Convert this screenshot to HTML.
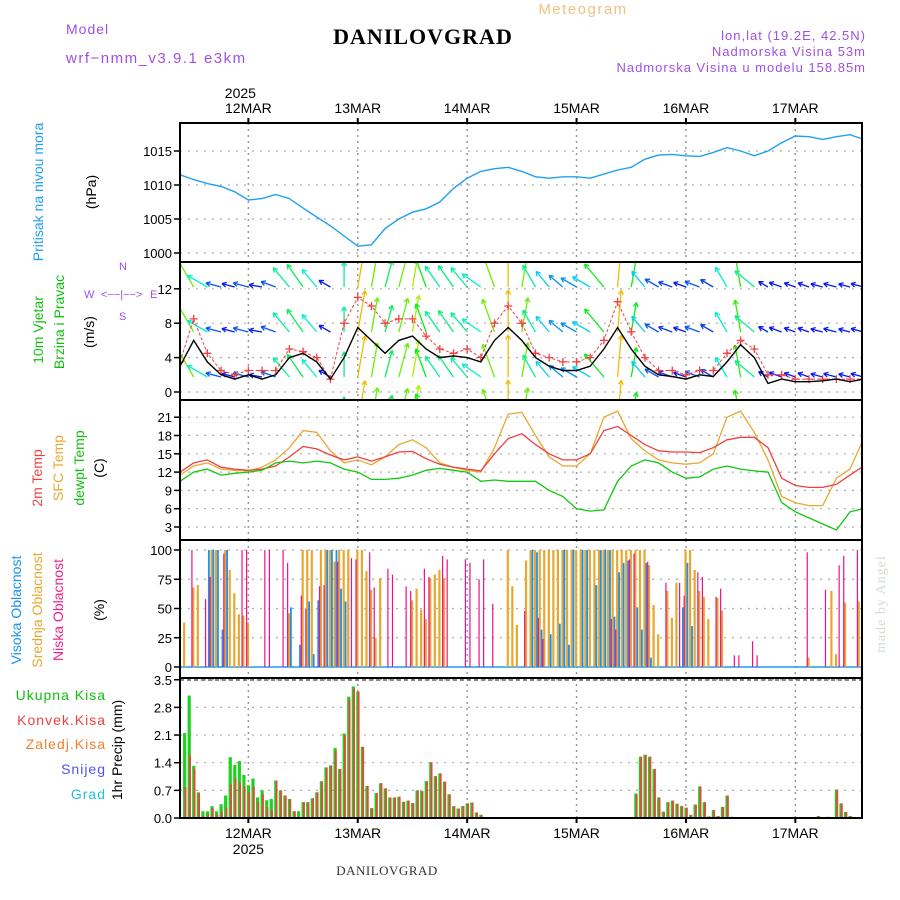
<!DOCTYPE html>
<html><head><meta charset="utf-8"><style>
html,body{margin:0;padding:0;background:#fff;width:900px;height:900px;overflow:hidden}
svg{display:block}
text{font-family:"Liberation Sans",sans-serif}
</style></head><body>
<svg id="chart" width="900" height="900" viewBox="0 0 900 900" xmlns="http://www.w3.org/2000/svg">
<g>
<text x="66" y="34" font-size="14" fill="#a050e0" letter-spacing="1">Model</text>
<text x="66" y="63" font-size="15" fill="#a050e0" letter-spacing="1.5">wrf−nmm_v3.9.1 e3km</text>
<text x="423" y="44" font-size="22" font-weight="bold" text-anchor="middle" letter-spacing="1" style="font-family:'Liberation Serif',serif">DANILOVGRAD</text>
<text x="583" y="14" font-size="15" fill="#f0c080" text-anchor="middle" letter-spacing="1.5">Meteogram</text>
<text x="866" y="40" font-size="13" fill="#a050e0" text-anchor="end" letter-spacing="1">lon,lat (19.2E, 42.5N)</text>
<text x="866" y="56" font-size="13" fill="#a050e0" text-anchor="end" letter-spacing="1">Nadmorska Visina 53m</text>
<text x="866" y="72" font-size="13" fill="#a050e0" text-anchor="end" letter-spacing="1">Nadmorska Visina u modelu 158.85m</text>
<text x="387" y="875" font-size="13" fill="#333" text-anchor="middle" letter-spacing="0.5" style="font-family:'Liberation Serif',serif">DANILOVGRAD</text>
<text transform="translate(885,653) rotate(-90)" font-size="14" fill="#cfe0cf" style="font-family:'Liberation Serif',serif" letter-spacing="1">made by Angel</text>
</g>
<g>
<text transform="translate(43,192) rotate(-90)" font-size="14" fill="#20a0f0" text-anchor="middle">Pritisak na nivou mora</text>
<text transform="translate(96,192) rotate(-90)" font-size="14" text-anchor="middle">(hPa)</text>
<text transform="translate(43,330) rotate(-90)" font-size="14" fill="#10c010" text-anchor="middle">10m Vjetar</text>
<text transform="translate(64,322) rotate(-90)" font-size="14" fill="#10c010" text-anchor="middle">Brzina i Pravac</text>
<text transform="translate(94,332) rotate(-90)" font-size="14" text-anchor="middle">(m/s)</text>
<text x="84" y="298" font-size="11" fill="#a050e0">W</text>
<text x="101" y="298" font-size="11" fill="#a050e0">&lt;−−|−−&gt;</text>
<text x="150" y="298" font-size="11" fill="#a050e0">E</text>
<text x="119" y="270" font-size="11" fill="#a050e0">N</text>
<text x="119" y="320" font-size="11" fill="#a050e0">S</text>
<text transform="translate(42,478) rotate(-90)" font-size="14" fill="#f04040" text-anchor="middle">2m Temp</text>
<text transform="translate(63,468) rotate(-90)" font-size="14" fill="#e8a830" text-anchor="middle">SFC Temp</text>
<text transform="translate(84,468) rotate(-90)" font-size="14" fill="#10c010" text-anchor="middle">dewpt Temp</text>
<text transform="translate(104,468) rotate(-90)" font-size="14" text-anchor="middle">(C)</text>
<text transform="translate(21,610) rotate(-90)" font-size="14" fill="#1a90f0" text-anchor="middle">Visoka Oblacnost</text>
<text transform="translate(42,610) rotate(-90)" font-size="14" fill="#e8a830" text-anchor="middle">Srednja Oblacnost</text>
<text transform="translate(63,610) rotate(-90)" font-size="14" fill="#f0208a" text-anchor="middle">Niska Oblacnost</text>
<text transform="translate(104,610) rotate(-90)" font-size="14" text-anchor="middle">(%)</text>
<text x="106" y="700" font-size="14" fill="#10c010" text-anchor="end" letter-spacing="1">Ukupna Kisa</text>
<text x="106" y="725" font-size="14" fill="#f04040" text-anchor="end" letter-spacing="1">Konvek.Kisa</text>
<text x="106" y="749" font-size="14" fill="#f08030" text-anchor="end" letter-spacing="1">Zaledj.Kisa</text>
<text x="106" y="774" font-size="14" fill="#5050f0" text-anchor="end" letter-spacing="1">Snijeg</text>
<text x="106" y="799" font-size="14" fill="#20c0d0" text-anchor="end" letter-spacing="1">Grad</text>
<text transform="translate(122,750) rotate(-90)" font-size="14" text-anchor="middle">1hr Precip (mm)</text>
</g>
</svg>
<script>
// ---------- data (3-hourly series starting 11 MAR 09h) ----------
const dateLabels = ["12MAR","13MAR","14MAR","15MAR","16MAR","17MAR"];
const pressure = [1011.5,1010.8,1010.2,1009.8,1009,1007.8,1008,1008.6,1008,1006.6,1005.3,1004,1002.5,1001,1001.2,1003.6,1005,1006,1006.5,1007.5,1009.5,1011,1012,1012.4,1012.6,1012,1011.2,1011,1011.2,1011.2,1011,1011.6,1012.2,1012.6,1013.8,1014.4,1014.5,1014.3,1014.2,1014.8,1015.5,1015,1014.3,1015,1016.2,1017.2,1017.1,1016.7,1017.1,1017.4,1016.7];
const temp2m = [12,13.5,14,12.8,12.5,12.3,12.5,13,14.5,16.2,15.8,14.8,14,14.5,13.8,14.5,15.3,15.4,14.2,13.3,12.8,12.5,12.2,15,17.5,18.3,16.5,15,14,14,15,18.8,19.5,18,16.5,15.5,15.3,15.3,15.2,16,17.3,17.7,17.7,16,11,9.8,9.5,9.5,10,11.5,13];
const tempSfc = [11.5,13,13.5,12.5,12.3,12.2,12.8,14,16,18.8,18.5,15.5,13.5,14,13.2,14.5,16.5,17.3,16,13.5,12.8,12.3,12,16,21.5,21.8,18,14.5,13,13,15,21,22,17.5,15.5,14,13.5,13.3,13.5,15,21,22,18.5,14,8,7,6.5,6.5,11,12.5,17.5];
const dewpt = [10.5,12,12.5,11.5,11.8,12,12.3,13.5,13.8,13.5,13.8,13.5,12.5,12,10.8,10.8,11,11.5,12.3,12.6,12.3,12,10.5,10.7,10.5,10.5,10.5,9,8,6,5.6,5.8,10.5,13,14,13.5,12,11,11.2,12.5,13,12.5,12.2,12,7,5.5,4.5,3.5,2.5,5.5,6];
const windSpeed = [3,6,3.5,2,1.5,2,1.5,2,4,4.5,3.5,1.5,4,7.5,6,4.5,6,6.5,5,4,4.2,4,3.5,6,7.5,6,4,3,2.5,2.5,3,5,7.5,5,3,2,1.8,1.5,2,1.8,3.5,5.5,4,1,1.5,1.2,1.2,1.3,1.5,1.2,1.5];
const windGust = [3.5,8.5,4.5,2.5,2,2.5,2.5,2.5,5,4.7,4,1.5,8,11,10,8,8.5,8.5,6.5,5,4.5,5,4,8,10,8,4.5,4,3.5,3.5,4,6,10.5,7,4,2.5,2.5,2,2.5,2.5,4.5,6,5,2,2,1.5,1.5,1.5,1.5,1.5,1.5];
const windDir = [-20,-30,-60,-75,-75,-75,-80,-70,-40,-35,-40,-60,0,10,10,15,15,10,-20,-35,-35,-40,-55,-20,0,10,-30,-40,-50,-60,-60,-40,5,10,-40,-60,-70,-70,-70,-60,-30,-10,-50,-60,-70,-70,-70,-75,-75,-75,-75];
// hourly cloud bars (hour index, percent)
const cloudMidHours = [1,3,4,7,8,10,11,12,13,14,15,24,27,28,29,31,32,33,34,35,36,37,39,40,41,42,43,44,51,52,53,54,55,56,57,58,72,73,74,76,77,78,79,80,81,82,83,84,85,86,87,88,89,90,91,92,93,94,95,96,97,98,99,100,101,102,103,104,105,107,108,109,111,112,113,114,115,116,118,119,138,143,144,146,149];
const cloudMidVals = [38,68,70,100,100,100,83,63,45,44,38,46,100,100,100,100,100,100,90,100,100,100,100,100,82,66,25,76,57,67,49,41,76,79,83,76,100,69,36,91,100,100,100,100,100,100,100,100,100,100,100,100,100,100,100,100,100,100,100,100,100,100,100,100,100,100,87,53,28,65,42,72,100,100,83,65,60,41,59,48,8,65,11,55,56];
const cloudHighHours = [6,7,8,9,10,24,26,28,29,30,32,33,34,35,36,77,78,79,81,83,84,85,86,88,89,91,92,93,94,95,96,97,98,100,101,102,103,110,111,112];
const cloudHighVals = [100,100,100,32,100,51,19,56,11,57,100,100,100,67,56,100,98,32,28,37,100,19,100,100,100,70,100,100,100,43,81,89,91,51,32,89,8,51,89,35];
const cloudLowHours = [2,5,6,9,13,14,18,19,22,23,26,27,30,31,34,37,38,41,42,45,46,49,50,53,54,57,58,62,63,65,66,68,75,78,79,94,95,98,99,102,106,109,110,113,114,117,118,121,122,125,126,137,141,144,145,148];
const cloudLowVals = [100,58,77,97,100,100,100,100,100,89,61,50,69,70,90,93,92,98,68,84,79,69,65,84,77,95,92,92,89,75,92,54,48,42,24,41,32,92,97,90,72,72,61,81,77,60,67,10,10,22,10,98,66,87,95,100];
// hourly precipitation (hour index, mm)
const precipHours = [1,2,3,4,5,6,7,8,9,10,11,12,13,14,15,16,17,18,19,20,21,22,23,24,25,26,27,28,29,30,31,32,33,34,35,36,37,38,39,40,41,42,43,44,45,46,47,48,49,50,51,52,53,54,55,56,57,58,59,60,61,62,63,64,65,66,100,101,102,103,104,105,106,107,108,109,110,111,112,113,114,115,116,117,118,119,120,121,140,142,144,145,146,147];
const precipTotal = [2.15,3.1,1.32,0.65,0.17,0.17,0.3,0.17,0.35,0.57,1.54,1.34,1.44,1.09,0.83,1.0,0.52,0.7,0.45,0.48,0.95,0.7,0.57,0.48,0.17,0.17,0.4,0.4,0.5,0.65,0.93,1.28,1.33,1.77,1.24,2.14,3.07,3.33,3.2,1.8,0.81,0.25,0.63,0.88,0.75,0.52,0.52,0.54,0.41,0.44,0.38,0.7,0.68,0.93,1.41,1.06,1.13,0.92,0.6,0.3,0.24,0.3,0.37,0.39,0.14,0.08,0.62,1.55,1.6,1.55,1.24,0.52,0.16,0.4,0.44,0.36,0.3,0.26,0.08,0.34,0.8,0.4,0.04,0.2,0.05,0.28,0.57,0.03,0.05,0.03,0.72,0.37,0.15,0.05];
const precipConv = [0.78,1.6,1.24,0.62,0.05,0.1,0.25,0.08,0.15,0.27,0.85,1.0,0.9,0.8,0.65,0.8,0.4,0.6,0.27,0.2,0.95,0.7,0.57,0.48,0.17,0,0.4,0.4,0.5,0.65,0.93,1.28,1.33,1.7,1.24,2.1,3.0,3.28,3.2,1.8,0.81,0.25,0.63,0.88,0.75,0.52,0.52,0.54,0.41,0.44,0.38,0.7,0.68,0.93,1.41,1.06,1.13,0.92,0.6,0.3,0.24,0.3,0.37,0.39,0.14,0.08,0.6,1.55,1.6,1.55,1.24,0.52,0.16,0.4,0.44,0.36,0.3,0.26,0.08,0.34,0.8,0.4,0.04,0.2,0.05,0.28,0.57,0.03,0.05,0.03,0.72,0.37,0.15,0.05];
const pressTicks = [1000,1005,1010,1015];
const windTicks = [0,4,8,12];
const tempTicks = [3,6,9,12,15,18,21];
const cloudTicks = [0,25,50,75,100];
const precipTicks = [0,0.7,1.4,2.1,2.8,3.5];

// ---------- geometry ----------
const NS = "http://www.w3.org/2000/svg";
const svg = document.getElementById("chart");
const X0 = 180, X1 = 862, PXH = 4.558;
const xH = h => X0 + h * PXH;
const x3 = i => xH(i * 3);
const panels = {
  press: {top:123, bot:262, y: v => 253 - (v - 1000) * 6.8},
  wind:  {top:262, bot:400, y: v => 392 - v * 8.6},
  temp:  {top:400, bot:540, y: v => 527 - (v - 3) * 6.1},
  cloud: {top:540, bot:678, y: v => 667 - v * 1.17},
  precip:{top:678, bot:818, y: v => 818 - v * 39.5}
};
function el(tag, attrs, parent){
  const e = document.createElementNS(NS, tag);
  for (const k in attrs) e.setAttribute(k, attrs[k]);
  (parent || svg).appendChild(e);
  return e;
}
const defs = el("defs", {});
for (const k in panels){
  const p = panels[k];
  const cp = el("clipPath", {id:"clip-"+k}, defs);
  el("rect", {x:X0, y:p.top, width:X1-X0, height:p.bot-p.top}, cp);
}
const dayHours = [15,39,63,87,111,135];

function gridPanel(key, ticks, fmt){
  const p = panels[key];
  const g = el("g", {});
  
  
  ticks.forEach(t => {
    const y = p.y(t);
    el("line", {x1:X0, x2:X1, y1:y, y2:y, stroke:"#aaa", "stroke-width":1.2, "stroke-dasharray":"2,6"}, g);
    el("line", {x1:X0-6, x2:X0, y1:y, y2:y, stroke:"#000", "stroke-width":1.5}, g);
    const tx = el("text", {x:X0-8, y:y+5, "font-size":13, "text-anchor":"end"}, g);
    tx.textContent = fmt(t);
    
    
  });
  dayHours.forEach(h => {
    el("line", {x1:xH(h), x2:xH(h), y1:p.top, y2:p.bot, stroke:"#999", "stroke-width":1.5, "stroke-dasharray":"2,4"}, g);
  });
}
gridPanel("press", pressTicks, t => t);
gridPanel("wind", windTicks, t => t);
gridPanel("temp", tempTicks, t => t);
gridPanel("cloud", cloudTicks, t => t);
gridPanel("precip", precipTicks, t => t.toFixed(1));

function linePath(arr, yf, color, name, w, dash){
  const d = arr.map((v,i) => (i?"L":"M") + x3(i).toFixed(1) + "," + yf(v).toFixed(1)).join(" ");
  const path = el("path", {d:d, fill:"none", stroke:color, "stroke-width":w||1.3});
  if (dash) path.setAttribute("stroke-dasharray", dash);
  
  
  return path;
}

// pressure
const gp = el("g", {"clip-path":"url(#clip-press)"});
gp.appendChild(linePath(pressure, panels.press.y, "#1ea0f0", "pressure-line", 1.4));

// wind
const gw = el("g", {"clip-path":"url(#clip-wind)"});
function windColor(s){
  if (s >= 9) return "hsl(325,95%,50%)";
  const h = Math.max(0, 235 - Math.max(0, s - 1.5) / 7.5 * 235);
  return "hsl(" + h.toFixed(0) + ",95%,48%)";
}
const rowBases = [287, 332, 377, 422];
rowBases.forEach((by) => {
  windSpeed.forEach((s, i) => {
    const a = windDir[i] * Math.PI / 180;
    const L = 6 + s * 4.8;
    const x = x3(i), x2 = x + Math.sin(a) * L, y2 = by - Math.cos(a) * L;
    const c = windColor(s);
    const g = el("g", {stroke:c, "stroke-width":1.3, fill:"none"}, gw);
    
    
    el("line", {x1:x, y1:by, x2:x2, y2:y2}, g);
    const ang = Math.atan2(y2 - by, x2 - x);
    [0.5, -0.5].forEach(da => {
      el("line", {x1:x2, y1:y2, x2:x2 - 5*Math.cos(ang+da), y2:y2 - 5*Math.sin(ang+da)}, g);
    });
  });
});
gw.appendChild(linePath(windGust, panels.wind.y, "#f04040", "wind-gust-line", 1, "3,2"));
windGust.forEach((v,i) => {
  const x = x3(i), y = panels.wind.y(v);
  const m = el("path", {d:`M${x-4},${y}H${x+4}M${x},${y-4}V${y+4}`, stroke:"#f04040", "stroke-width":1.3}, gw);
  
  
});
gw.appendChild(linePath(windSpeed, panels.wind.y, "#000", "wind-speed-line", 1.4));

// temperature
const gt = el("g", {"clip-path":"url(#clip-temp)"});
gt.appendChild(linePath(tempSfc, panels.temp.y, "#e8a830", "sfc-temp-line", 1.3));
gt.appendChild(linePath(temp2m, panels.temp.y, "#f04040", "temp-2m-line", 1.3));
gt.appendChild(linePath(dewpt, panels.temp.y, "#10c810", "dewpoint-line", 1.3));

// clouds
const gc = el("g", {"clip-path":"url(#clip-cloud)"});
el("line", {x1:X0, x2:X1, y1:667, y2:667, stroke:"#1ea0f0", "stroke-width":1.5}, gc);
function cloudBars(hours, vals, color, w, off, name){
  hours.forEach((h,i) => {
    const y = panels.cloud.y(vals[i]);
    const r = el("rect", {x:xH(h)+off, y:y, width:w, height:667-y, fill:color}, gc);
    
    
  });
}
cloudBars(cloudMidHours, cloudMidVals, "#e8a830", 2.2, -1.5, "cloud-mid-bar");
cloudBars(cloudHighHours, cloudHighVals, "#1a90f0", 1.8, 0.6, "cloud-high-bar");
cloudBars(cloudLowHours, cloudLowVals, "#f0108a", 1.2, 2.2, "cloud-low-bar");

// precipitation
const gq = el("g", {"clip-path":"url(#clip-precip)"});
el("line", {x1:X0, x2:X1, y1:680, y2:680, stroke:"#444", "stroke-width":1.2, "stroke-dasharray":"4,3"}, gq);
precipHours.forEach((h,i) => {
  const x = xH(h);
  const yt = panels.precip.y(precipTotal[i]);
  const r1 = el("rect", {x:x-1.5, y:yt, width:3.2, height:818-yt, fill:"#20d020"}, gq);
  
  
  const yc = panels.precip.y(precipConv[i]);
  const r2 = el("rect", {x:x, y:yc, width:1.8, height:818-yc, fill:"#f04040"}, gq);
  
  
});

// frames
[262,400,540,678].forEach(y => el("line", {x1:X0-1, x2:X1+1, y1:y, y2:y, stroke:"#000", "stroke-width":2}));
const frame = el("rect", {x:X0, y:123, width:X1-X0, height:695, fill:"none", stroke:"#000", "stroke-width":2});



// date axes
dayHours.forEach((h,i) => {
  const x = xH(h);
  el("line", {x1:x, x2:x, y1:118, y2:123, stroke:"#000", "stroke-width":2});
  el("line", {x1:x, x2:x, y1:818, y2:823, stroke:"#000", "stroke-width":2});
  const t = el("text", {x:x, y:113, "font-size":14, "text-anchor":"middle"});
  t.textContent = dateLabels[i];
  
  
  const b = el("text", {x:x, y:838, "font-size":14, "text-anchor":"middle"});
  b.textContent = dateLabels[i];
  
  
});
const y1 = el("text", {x:xH(15)-8, y:98, "font-size":14, "text-anchor":"middle"});
y1.textContent = "2025";


const y2 = el("text", {x:xH(15), y:854, "font-size":14, "text-anchor":"middle"});
y2.textContent = "2025";


</script>
</body></html>
